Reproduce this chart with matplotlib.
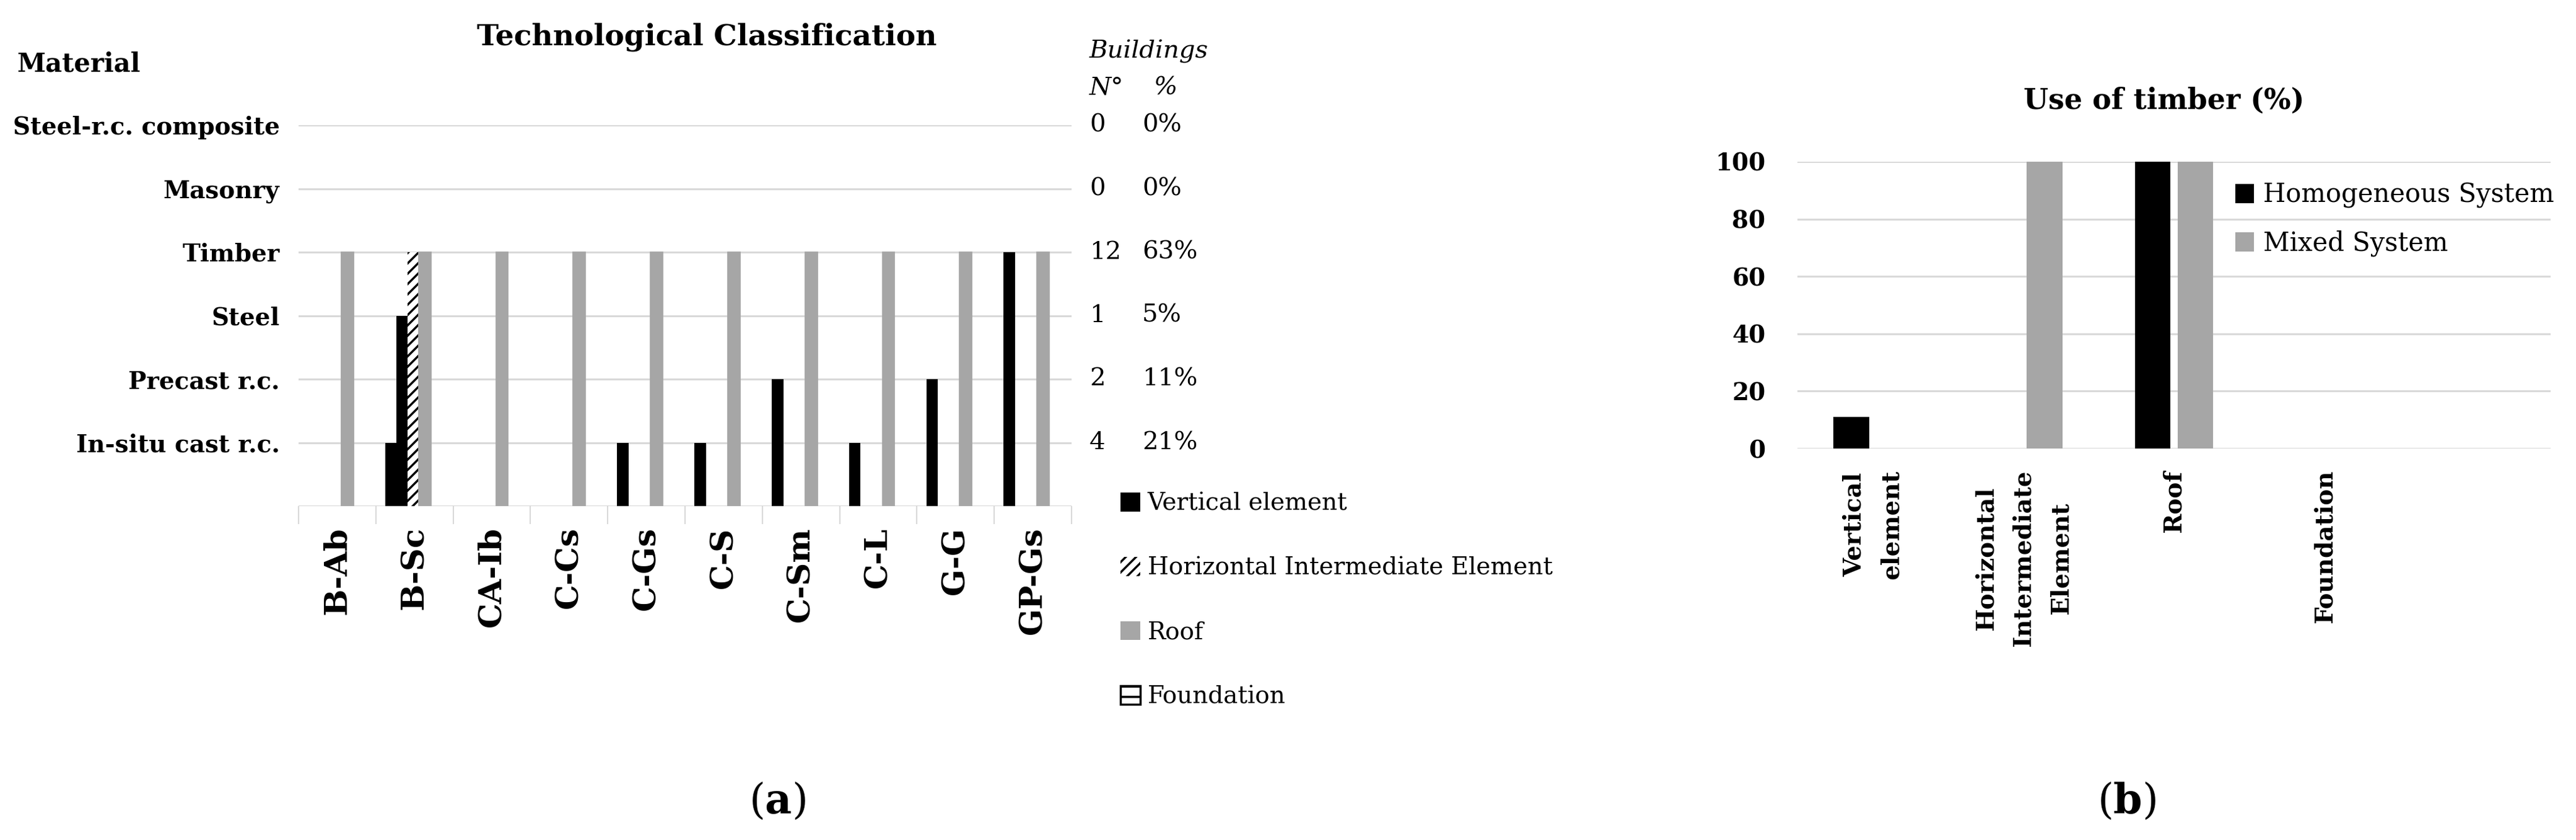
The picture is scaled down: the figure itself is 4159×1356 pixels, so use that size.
import numpy as np
import matplotlib.pyplot as plt
from matplotlib.patches import Patch
from matplotlib import transforms

W, H = 4159, 1356
plt.rcParams['font.family'] = 'DejaVu Serif'
plt.rcParams['mathtext.fontset'] = 'dejavuserif'
plt.rcParams['hatch.linewidth'] = 2.5

BLACK = '#000000'
GREY = '#a6a6a6'
GRID = '#d9d9d9'

# (a) technological classification
buildings = ['B-Ab', 'B-Sc', 'CA-Ib', 'C-Cs', 'C-Gs', 'C-S', 'C-Sm', 'C-L', 'G-G', 'GP-Gs']
materials = ['In-situ cast r.c.', 'Precast r.c.', 'Steel', 'Timber', 'Masonry',
             'Steel-r.c. composite']
n_buildings = [4, 2, 1, 12, 0, 0]
vertical = [0, 1, 0, 0, 1, 1, 2, 1, 2, 4]
vertical_2 = [0, 3, 0, 0, 0, 0, 0, 0, 0, 0]
horizontal = [0, 4, 0, 0, 0, 0, 0, 0, 0, 0]
roof = [4, 4, 4, 4, 4, 4, 4, 4, 4, 4]
foundation = [0, 0, 0, 0, 0, 0, 0, 0, 0, 0]

# (b) use of timber
elements = ['Vertical\nelement', 'Horizontal\nIntermediate\nElement', 'Roof', 'Foundation']
homogeneous = [11, 0, 100, 0]
mixed = [0, 100, 100, 0]


def fx(px):
    return px / W


def fy(py):
    return 1 - py / H


fig = plt.figure(figsize=(W / 100, H / 100), dpi=100)

# ---------------- left chart ----------------
ax = fig.add_axes([fx(482), fy(817), 1248 / W, 615 / H])
x = np.arange(len(buildings))
w = 0.15
step = 0.144
off = -0.016
ax.bar(x + off - 2 * step, vertical, w, color=BLACK, linewidth=0)
ax.bar(x + off - step, vertical_2, w, color=BLACK, linewidth=0)
ax.bar(x + off, horizontal, w, color='white', edgecolor=BLACK, hatch='//', linewidth=0)
ax.bar(x + off + step, roof, w, color=GREY, edgecolor=GREY, linewidth=2)
ax.bar(x + off + 2 * step, foundation, w, color='white', edgecolor=BLACK, hatch='-', linewidth=0)

ax.set_xlim(-0.5, len(buildings) - 0.5)
ax.set_ylim(0, 6)
ax.set_axisbelow(True)
ax.yaxis.grid(True, color=GRID, linewidth=2.2)
for s in ax.spines.values():
    s.set_visible(False)
ax.set_yticks(range(7))
ax.set_yticklabels([''] + materials, fontweight='bold', fontsize=28)
ax.tick_params(axis='y', length=0, pad=22)
ax.set_xticks(x)
ax.set_xticklabels(buildings, rotation=90, fontweight='bold', fontsize=37)
ax.tick_params(axis='x', which='major', length=0, pad=24)
ax.set_xticks(np.arange(-0.5, len(buildings), 1), minor=True)
ax.tick_params(axis='x', which='minor', length=21, width=1.5, color=GRID)

fig.text(fx(1141), fy(60), 'Technological Classification', ha='center', va='center',
         fontweight='bold', fontsize=34)
fig.text(fx(27), fy(104), 'Material', ha='left', va='center', fontweight='bold', fontsize=30)

# building counts on the right
total = sum(n_buildings)
tr = transforms.blended_transform_factory(fig.transFigure, ax.transData)
for i, n in enumerate(n_buildings):
    ax.text(fx(1759), i + 1, str(n), transform=tr, ha='left', va='center', fontsize=29)
    ax.text(fx(1844), i + 1, '%d%%' % round(100 * n / total), transform=tr,
            ha='left', va='center', fontsize=29)
fig.text(fx(1759), fy(83), 'Buildings', ha='left', va='center', style='italic', fontsize=29)
fig.text(fx(1759), fy(142), 'N°', ha='left', va='center', style='italic', fontsize=29)
fig.text(fx(1862), fy(142), '%', ha='left', va='center', style='italic', fontsize=29)

handles = [Patch(facecolor=BLACK),
           Patch(facecolor='white', edgecolor=BLACK, hatch='//', linewidth=0),
           Patch(facecolor=GREY),
           Patch(facecolor='white', edgecolor=BLACK, hatch='-', linewidth=2.5)]
labels = ['Vertical element', 'Horizontal Intermediate Element', 'Roof', 'Foundation']
ax.legend(handles, labels, loc='upper left', bbox_to_anchor=(fx(1809), fy(795)),
          bbox_transform=fig.transFigure, frameon=False, borderpad=0, borderaxespad=0,
          fontsize=28, handlelength=0.82, handleheight=0.82, handletextpad=0.3,
          labelspacing=1.72)

fig.text(fx(1255), fy(1294), '(' + r'$\mathbf{a}$' + ')', ha='center', va='center', fontsize=48)

# ---------------- right chart ----------------
ax2 = fig.add_axes([fx(2902), fy(724), 1216 / W, 463 / H])
xb = np.arange(len(elements))
ax2.bar(xb - 0.142, homogeneous, 0.238, color=BLACK, label='Homogeneous System')
ax2.bar(xb + 0.142, mixed, 0.238, color=GREY, label='Mixed System')
ax2.set_xlim(-0.5, 4.5)
ax2.set_ylim(0, 100)
ax2.set_axisbelow(True)
ax2.yaxis.grid(True, color=GRID, linewidth=2.2)
for s in ax2.spines.values():
    s.set_visible(False)
ax2.set_yticks(range(0, 101, 20))
ax2.set_yticklabels([str(v) for v in range(0, 101, 20)], fontweight='bold', fontsize=28)
ax2.tick_params(axis='y', length=0, pad=37)
ax2.set_xticks(xb)
ax2.set_xticklabels(elements, rotation=90, fontweight='bold', fontsize=28)
for lbl in ax2.get_xticklabels():
    lbl.set_multialignment('center')
    lbl.set_linespacing(1.75)
ax2.tick_params(axis='x', length=0, pad=25)

fig.text(fx(3494), fy(163), 'Use of timber (%)', ha='center', va='center',
         fontweight='bold', fontsize=33)
ax2.legend(loc='upper left', bbox_to_anchor=(fx(3609), fy(294)),
           bbox_transform=fig.transFigure, frameon=False, borderpad=0, borderaxespad=0,
           fontsize=30, handlelength=0.72, handleheight=0.75, handletextpad=0.35,
           labelspacing=0.85)

fig.text(fx(3434), fy(1294), '(' + r'$\mathbf{b}$' + ')', ha='center', va='center', fontsize=48)

fig.savefig('out.png', dpi=100, facecolor='white')
